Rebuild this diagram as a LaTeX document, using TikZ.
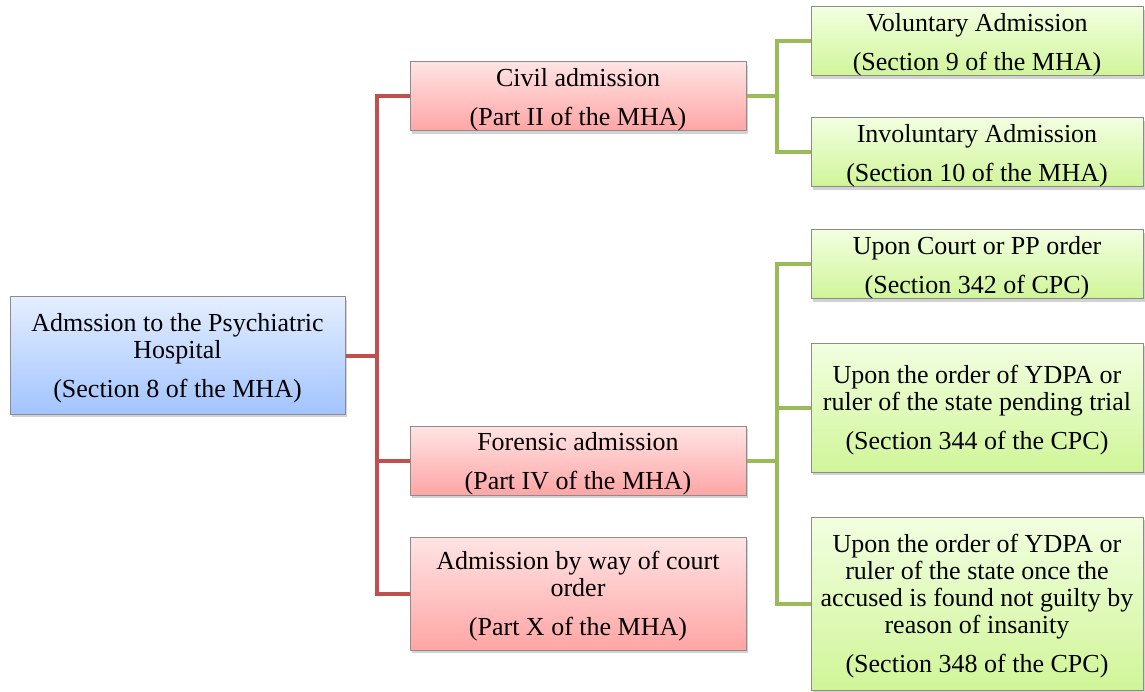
\documentclass[tikz,border=0pt]{standalone}
\usepackage{fontspec}
\setmainfont{Liberation Serif}
\usetikzlibrary{shadows}

\definecolor{linkred}{RGB}{192,80,77}
\definecolor{linkgreen}{RGB}{155,187,89}
\definecolor{boxborder}{RGB}{140,140,140}
\definecolor{redtop}{RGB}{255,228,228}
\definecolor{redbot}{RGB}{255,165,165}
\definecolor{bluetop}{RGB}{228,238,255}
\definecolor{bluebot}{RGB}{162,196,255}
\definecolor{greentop}{RGB}{242,255,224}
\definecolor{greenbot}{RGB}{208,245,152}

\tikzset{
  box/.style={rectangle, draw=boxborder, line width=1pt, inner sep=0pt,
    align=center, font=\fontsize{26}{27}\selectfont,
    drop shadow={opacity=0.35, shadow xshift=2pt, shadow yshift=-3pt}},
  bluebox/.style={box, top color=bluetop, bottom color=bluebot},
  redbox/.style={box, top color=redtop, bottom color=redbot},
  greenbox/.style={box, top color=greentop, bottom color=greenbot},
  redlink/.style={draw=linkred, line width=4pt},
  greenlink/.style={draw=linkgreen, line width=4pt},
}
% gap between the title and the reference line
\newcommand{\pgap}{\\[12pt]}
% extra room above the first line, to sit the text a little lower
\newcommand{\tl}{\rule{0pt}{24pt}}

\begin{document}
\begin{tikzpicture}[x=1pt, y=-1pt]
\useasboundingbox[fill=white] (0,0) rectangle (1145,692);

% root
\node[bluebox, minimum width=335pt, minimum height=117pt] (root) at (177.5,355.5)
  {\tl Admssion to the Psychiatric\\Hospital\pgap(Section 8 of the MHA)};

% second level
\node[redbox, minimum width=336pt, minimum height=69pt] (civil) at (578,96.5)
  {\tl Civil admission\pgap(Part II of the MHA)};
\node[redbox, minimum width=336pt, minimum height=69pt] (forensic) at (578,460.5)
  {\tl Forensic admission\pgap(Part IV of the MHA)};
\node[redbox, minimum width=336pt, minimum height=113pt] (court) at (578,593.5)
  {\tl Admission by way of court\\order\pgap(Part X of the MHA)};

% third level
\node[greenbox, minimum width=332pt, minimum height=69pt] (vol) at (977,41.5)
  {\tl Voluntary Admission\pgap(Section 9 of the MHA)};
\node[greenbox, minimum width=332pt, minimum height=69pt] (invol) at (977,152.5)
  {\tl Involuntary Admission\pgap(Section 10 of the MHA)};
\node[greenbox, minimum width=332pt, minimum height=69pt] (pp) at (977,264.5)
  {\tl Upon Court or PP order\pgap(Section 342 of CPC)};
\node[greenbox, minimum width=332pt, minimum height=129pt] (trial) at (977,407.5)
  {\tl Upon the order of YDPA or\\ruler of the state pending trial\pgap(Section 344 of the CPC)};
\node[greenbox, minimum width=332pt, minimum height=173pt] (insane) at (977,603.5)
  {\tl Upon the order of YDPA or\\ruler of the state once the\\accused is found not guilty by\\reason of insanity\pgap(Section 348 of the CPC)};

% bus points
\coordinate (rb) at (377,355.5);
\coordinate (gc) at (777,96.5);
\coordinate (gf) at (777,460.5);

% red connectors
\draw[redlink] (root.east) -- (rb);
\draw[redlink] (civil.west) -| (rb);
\draw[redlink] (court.west) -| (rb);
\draw[redlink] (forensic.west) -- (forensic.west -| rb);

% green connectors
\draw[greenlink] (civil.east) -- (gc);
\draw[greenlink] (vol.west) -| (gc);
\draw[greenlink] (invol.west) -| (gc);
\draw[greenlink] (forensic.east) -- (gf);
\draw[greenlink] (pp.west) -| (gf);
\draw[greenlink] (insane.west) -| (gf);
\draw[greenlink] (trial.west) -- (trial.west -| gf);
\end{tikzpicture}
\end{document}
